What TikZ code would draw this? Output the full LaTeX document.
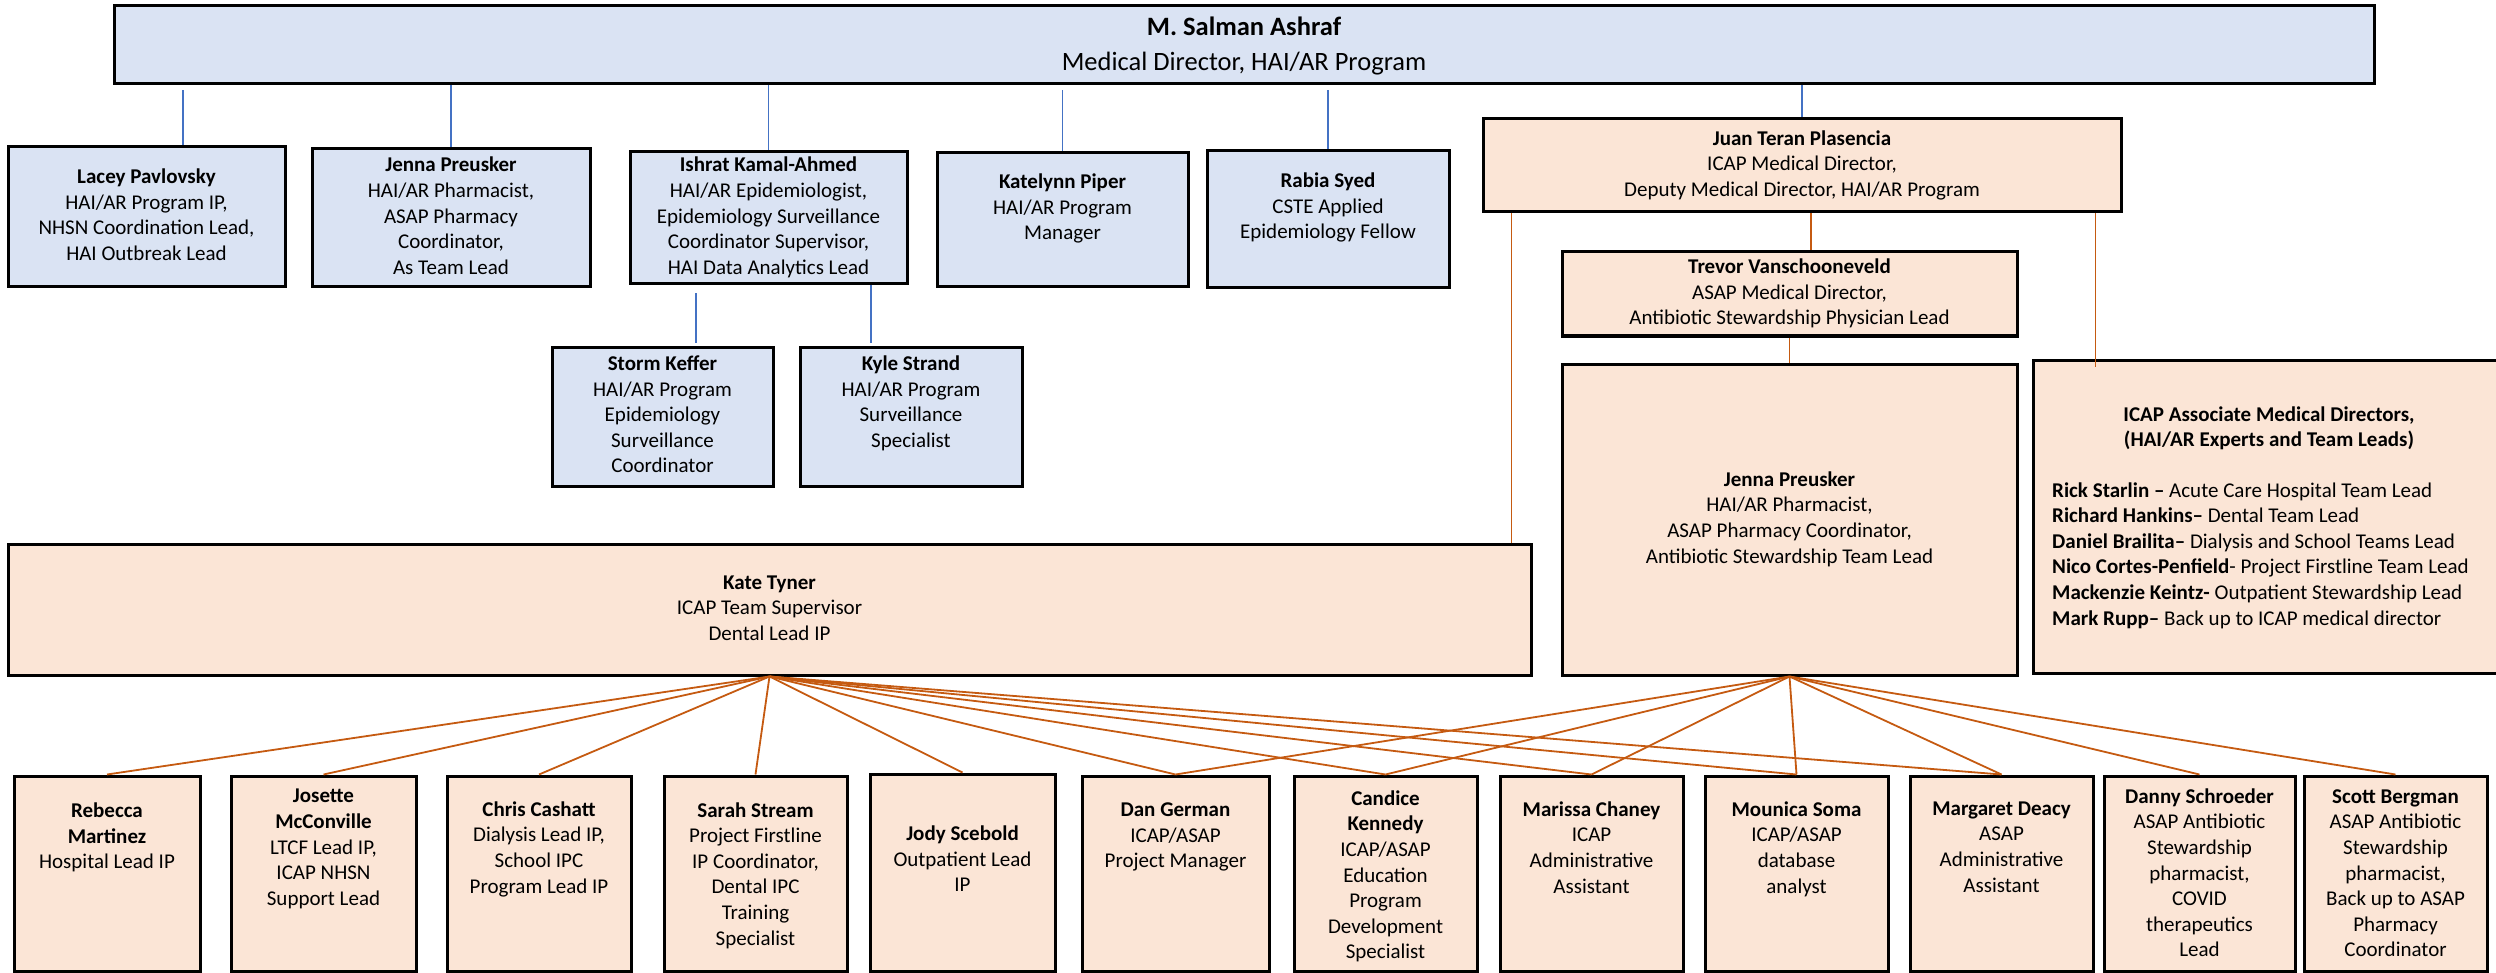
\documentclass[tikz,border=0pt]{standalone}
\usepackage{fontspec}
\setmainfont{Carlito}
\usetikzlibrary{calc}
\definecolor{bfill}{HTML}{DAE3F3}
\definecolor{ofill}{HTML}{FBE5D6}
\definecolor{bline}{HTML}{4472C4}
\definecolor{oline}{HTML}{C55A11}
\newcommand\fsm{\fontsize{21}{25.6}\selectfont}
\newcommand\fbig{\fontsize{26.5}{32}\selectfont}
\begin{document}
\begin{tikzpicture}[x=1pt,y=-1pt,
  box/.style={draw=black, line width=3pt, inner sep=0pt, align=center, font=\fsm},
  bbox/.style={box, fill=bfill},
  obox/.style={box, fill=ofill},
  sz/.style 2 args={minimum width=#1pt, minimum height=#2pt},
  txt/.style={inner sep=0pt, align=center, font=\fsm},
  bl/.style={draw=bline, line width=1.5pt},
  ol/.style={draw=oline, line width=1.8pt}]
\clip (0,0) rectangle (2496,973);
% top
\node[bbox, sz={2260}{78}] (ceo) at (1244,45) {};
\node[txt, font=\fbig] (ceo-t) at (1244,47) {\strut\textbf{M. Salman Ashraf}\\[3pt]Medical Director, HAI/AR Program\strut};
% blue row
\node[bbox, sz={277}{140}] (lacey) at (146.5,217) {\strut\textbf{Lacey Pavlovsky}\\HAI/AR Program IP,\\NHSN Coordination Lead,\\HAI Outbreak Lead\strut};
\node[bbox, sz={278}{138}] (jenna1) at (451,218) {\strut\textbf{Jenna Preusker}\\HAI/AR Pharmacist,\\ASAP Pharmacy\\Coordinator,\\As Team Lead\strut};
\node[bbox, sz={277}{132}] (ishrat) at (768.5,218) {\strut\textbf{Ishrat Kamal-Ahmed}\\HAI/AR Epidemiologist,\\Epidemiology Surveillance\\Coordinator Supervisor,\\HAI Data Analytics Lead\strut};
\node[bbox, sz={251}{134}] (katelynn) at (1062.5,220) {};
\node[txt] (katelynn-t) at (1062.5,209) {\strut\textbf{Katelynn Piper}\\HAI/AR Program\\Manager\strut};
\node[bbox, sz={242}{137}] (rabia) at (1328,219.5) {};
\node[txt] (rabia-t) at (1328,208) {\strut\textbf{Rabia Syed}\\CSTE Applied\\Epidemiology Fellow\strut};
\node[bbox, sz={221}{139}] (storm) at (662.5,416.5) {\strut\textbf{Storm Keffer}\\HAI/AR Program\\Epidemiology\\Surveillance\\Coordinator\strut};
\node[bbox, sz={222}{139}] (kyle) at (911,416.5) {};
\node[txt] (kyle-t) at (911,404) {\strut\textbf{Kyle Strand}\\HAI/AR Program\\Surveillance\\Specialist\strut};
% orange upper
\node[obox, sz={638}{93}] (juan) at (1802,165.5) {\strut\textbf{Juan Teran Plasencia}\\ICAP Medical Director,\\Deputy Medical Director, HAI/AR Program\strut};
\node[obox, sz={455}{84}] (trevor) at (1789.5,294) {\strut\textbf{Trevor Vanschooneveld}\\ASAP Medical Director,\\Antibiotic Stewardship Physician Lead\strut};
\node[obox, sz={455}{311}] (jenna2) at (1789.5,519.5) {\strut\textbf{Jenna Preusker}\\HAI/AR Pharmacist,\\ASAP Pharmacy Coordinator,\\Antibiotic Stewardship Team Lead\strut};
\node[obox, sz={497}{313}] (assoc) at (2281.5,516.5) {};
\node[txt] (assoc-t) at (2269,429) {\strut\textbf{ICAP Associate Medical Directors,}\\\textbf{(HAI/AR Experts and Team Leads)}\strut};
\node[txt, align=left, anchor=west] (assoc-l) at (2052,556) {\strut\textbf{Rick Starlin –} Acute Care Hospital Team Lead\\
\textbf{Richard Hankins–} Dental Team Lead\\
\textbf{Daniel Brailita–} Dialysis and School Teams Lead\\
\textbf{Nico Cortes-Penfield}- Project Firstline Team Lead\\
\textbf{Mackenzie Keintz-} Outpatient Stewardship Lead\\
\textbf{Mark Rupp–} Back up to ICAP medical director\strut};
\node[obox, sz={1523}{131}] (kate) at (769.5,609.5) {\strut\textbf{Kate Tyner}\\ICAP Team Supervisor\\Dental Lead IP\strut};
% bottom row
\node[obox, sz={186}{195}] (rebecca) at (107,873.5) {};
\node[txt] (rebecca-t) at (107,838) {\strut\textbf{Rebecca}\\\textbf{Martinez}\\Hospital Lead IP\strut};
\node[obox, sz={185}{195}] (josette) at (323.5,873.5) {};
\node[txt] (josette-t) at (323.5,849) {\strut\textbf{Josette}\\\textbf{McConville}\\LTCF Lead IP,\\ICAP NHSN\\Support Lead\strut};
\node[obox, sz={184}{195}] (chris) at (539,873.5) {};
\node[txt] (chris-t) at (539,849.5) {\strut\textbf{Chris Cashatt}\\Dialysis Lead IP,\\School IPC\\Program Lead IP\strut};
\node[obox, sz={183}{195}] (sarah) at (755.5,873.5) {};
\node[txt] (sarah-t) at (755.5,876) {\strut\textbf{Sarah Stream}\\Project Firstline\\IP Coordinator,\\Dental IPC\\Training\\Specialist\strut};
\node[obox, sz={185}{197}] (jody) at (962.5,872.5) {};
\node[txt] (jody-t) at (962.5,861) {\strut\textbf{Jody Scebold}\\Outpatient Lead\\IP\strut};
\node[obox, sz={187}{195}] (dan) at (1175.5,873.5) {};
\node[txt] (dan-t) at (1175.5,837) {\strut\textbf{Dan German}\\ICAP/ASAP\\Project Manager\strut};
\node[obox, sz={183}{195}] (candice) at (1385.5,873.5) {};
\node[txt] (candice-t) at (1385.5,877) {\strut\textbf{Candice}\\\textbf{Kennedy}\\ICAP/ASAP\\Education\\Program\\Development\\Specialist\strut};
\node[obox, sz={183}{195}] (marissa) at (1591.5,873.5) {};
\node[txt] (marissa-t) at (1591.5,849.5) {\strut\textbf{Marissa Chaney}\\ICAP\\Administrative\\Assistant\strut};
\node[obox, sz={183}{195}] (mounica) at (1796.5,873.5) {};
\node[txt] (mounica-t) at (1796.5,849.5) {\strut\textbf{Mounica Soma}\\ICAP/ASAP\\database\\analyst\strut};
\node[obox, sz={183}{195}] (margaret) at (2001.5,873.5) {};
\node[txt] (margaret-t) at (2001.5,848.5) {\strut\textbf{Margaret Deacy}\\ASAP\\Administrative\\Assistant\strut};
\node[obox, sz={191}{195}] (danny) at (2199.5,873.5) {};
\node[txt] (danny-t) at (2199.5,875) {\strut\textbf{Danny Schroeder}\\ASAP Antibiotic\\Stewardship\\pharmacist,\\COVID\\therapeutics\\Lead\strut};
\node[obox, sz={183}{195}] (scott) at (2395.5,873.5) {};
\node[txt] (scott-t) at (2395.5,875) {\strut\textbf{Scott Bergman}\\ASAP Antibiotic\\Stewardship\\pharmacist,\\Back up to ASAP\\Pharmacy\\Coordinator\strut};
% blue connectors
\draw[bl, shorten <=5pt] ([xshift=36.5pt]lacey.north |- ceo.south) -- ([xshift=36.5pt]lacey.north);
\draw[bl] (jenna1.north |- ceo.south) -- (jenna1.north);
\draw[bl] (ishrat.north |- ceo.south) -- (ishrat.north);
\draw[bl, shorten <=5pt] (katelynn.north |- ceo.south) -- (katelynn.north);
\draw[bl, shorten <=5pt] (rabia.north |- ceo.south) -- (rabia.north);
\draw[bl] (juan.north |- ceo.south) -- (juan.north);
\draw[bl, shorten <=8pt, shorten >=3pt] ([xshift=33.5pt]storm.north |- ishrat.south) -- ([xshift=33.5pt]storm.north);
\draw[bl, shorten >=3pt] ([xshift=-40pt]kyle.north |- ishrat.south) -- ([xshift=-40pt]kyle.north);
% orange connectors
\draw[ol] ([xshift=21.5pt]trevor.north |- juan.south) -- ([xshift=21.5pt]trevor.north);
\draw[ol] (trevor.south) -- (jenna2.north);
\draw[ol, line width=1.4pt] ([xshift=30pt]juan.south west) -- ([xshift=30pt]juan.south west |- kate.north);
\draw[ol, line width=1.4pt] ([xshift=-27pt]juan.south east) -- ([xshift=-27pt,yshift=-8pt]juan.south east |- assoc.north);
\foreach \n in {rebecca,josette,chris,sarah,jody,dan,candice,marissa,mounica,margaret}
  \draw[ol] (kate.south) -- (\n.north);
\foreach \n in {dan,candice,marissa,mounica,margaret,danny,scott}
  \draw[ol] (jenna2.south) -- (\n.north);
\end{tikzpicture}
\end{document}
